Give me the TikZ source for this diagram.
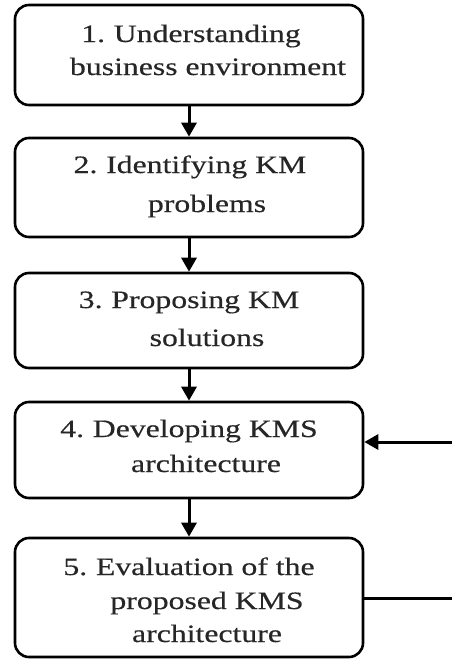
\documentclass[tikz,border=0pt]{standalone}
\usepackage{fontspec}
\setmainfont{Liberation Serif}[FakeStretch=1.27,FakeBold=0.4]
\usetikzlibrary{arrows.meta}
\begin{document}
\begin{tikzpicture}[x=1pt,y=-1pt,
  stepbox/.style={draw=black,line width=2.6pt,rounded corners=14pt,minimum width=348pt,inner sep=0pt},
  txt/.style={anchor=base,inner sep=0pt,text=black!85,font=\fontsize{25}{30}\selectfont},
  arr/.style={line width=3pt,-{Triangle[length=14pt,width=15pt]}},
  fbline/.style={line width=3pt}]
\useasboundingbox (0,0) rectangle (452,659);
% boxes
\node[stepbox,minimum height=100pt] (b1) at (189,55) {};
\node[stepbox,minimum height=99pt] (b2) at (189,187.5) {};
\node[stepbox,minimum height=95pt] (b3) at (189,320.5) {};
\node[stepbox,minimum height=96pt] (b4) at (189,450) {};
\node[stepbox,minimum height=119pt] (b5) at (189,597.5) {};
% texts
\node[txt] (t1a) at (191,42) {1.\hspace{0.35em}Understanding};
\node[txt] (t1b) at (208,75) {business environment};
\node[txt] (t2a) at (190,173) {2.\hspace{0.35em}Identifying KM};
\node[txt] (t2b) at (207,212) {problems};
\node[txt] (t3a) at (189,308) {3.\hspace{0.35em}Proposing KM};
\node[txt] (t3b) at (207,346) {solutions};
\node[txt] (t4a) at (189,437) {4.\hspace{0.35em}Developing KMS};
\node[txt] (t4b) at (206,472) {architecture};
\node[txt] (t5a) at (189,575) {5.\hspace{0.35em}Evaluation of the};
\node[txt] (t5b) at (207,609) {proposed KMS};
\node[txt] (t5c) at (207,642) {architecture};
% arrows
\draw[arr] (b1.south) -- (b2.north);
\draw[arr] (b2.south) -- (b3.north);
\draw[arr] (b3.south) -- (b4.north);
\draw[arr] (b4.south) -- (b5.north);
% feedback
\coordinate (fb5) at (452,598);
\coordinate (fb4) at (452,442);
\draw[fbline] (b5.east |- fb5) -- (fb5);
\draw[arr] (fb4) -- (fb4 -| b4.east);
\end{tikzpicture}
\end{document}
